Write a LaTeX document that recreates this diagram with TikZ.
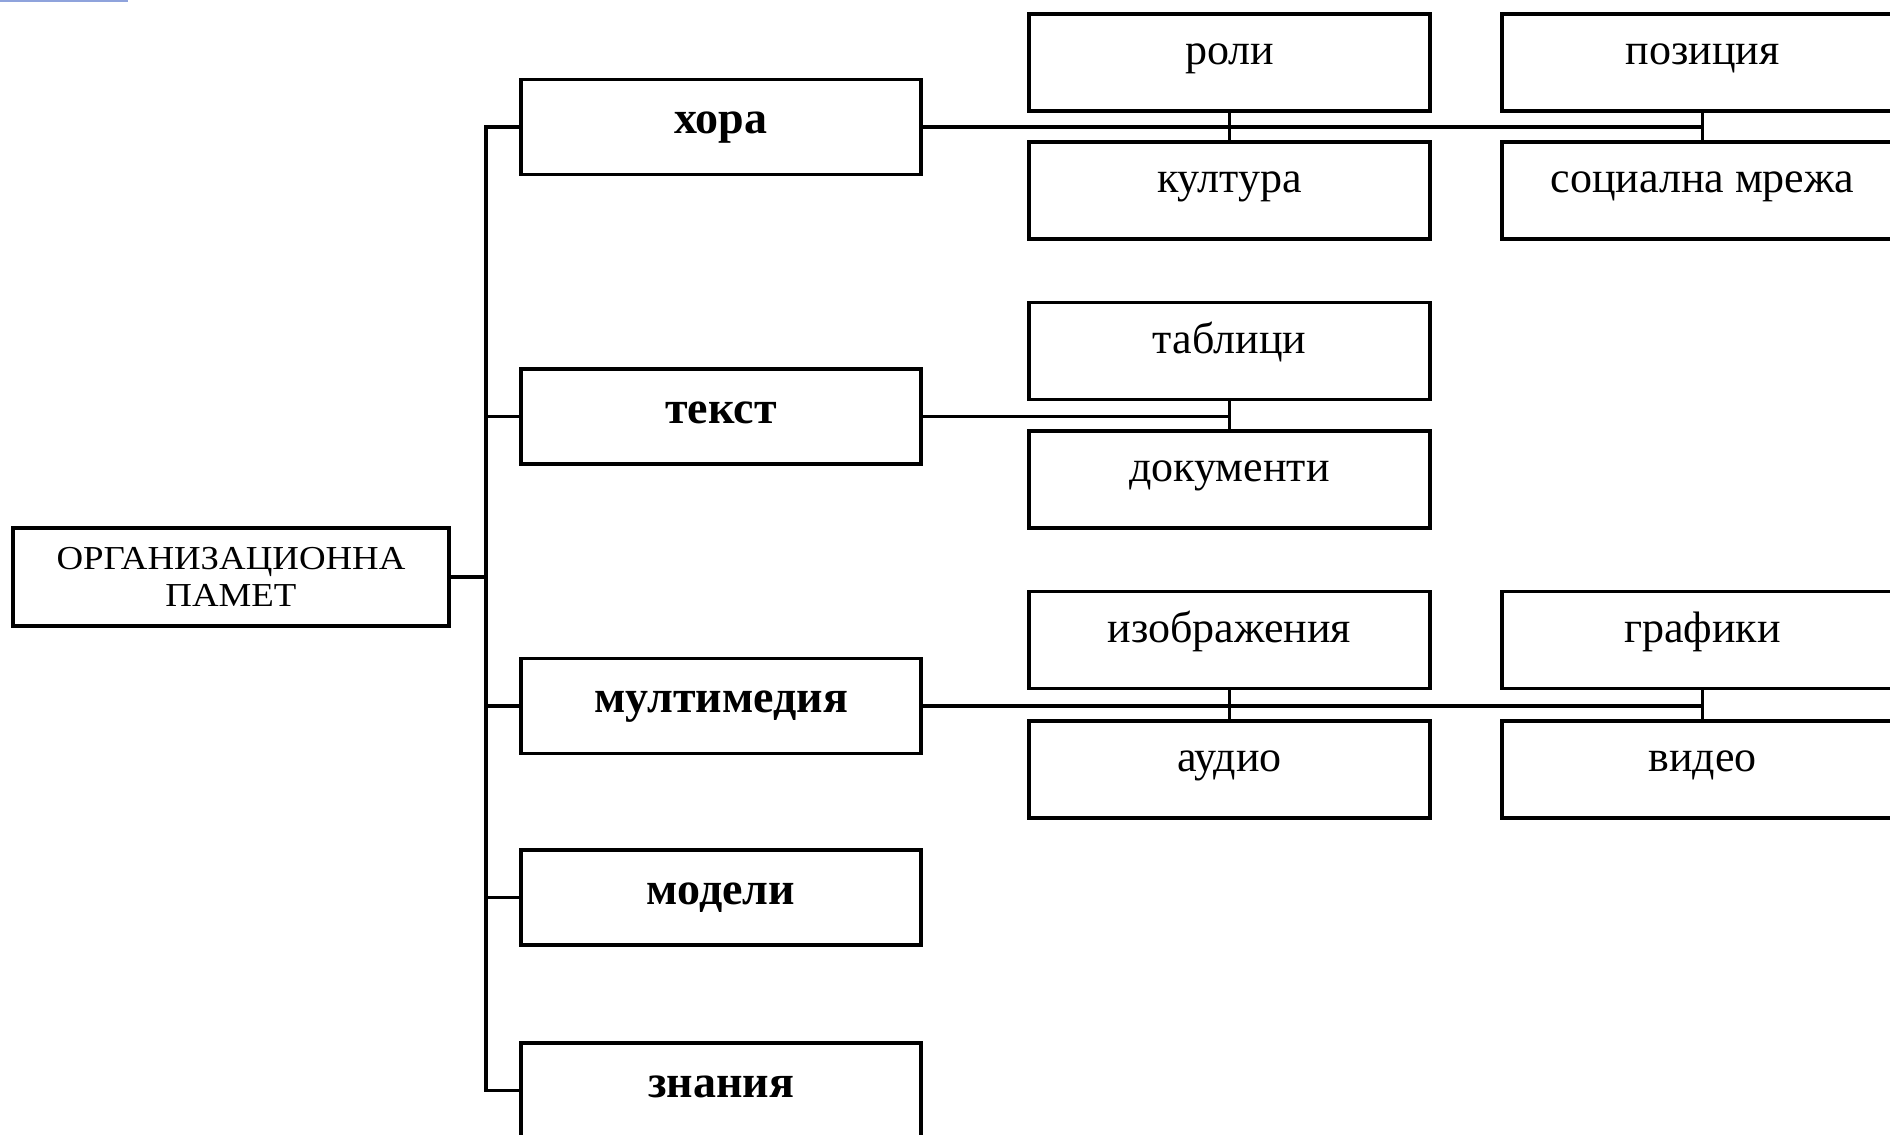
\documentclass[tikz,border=0pt]{standalone}
\usepackage{fontspec}
\setmainfont{Liberation Serif}
\newfontfamily\rootfont[FakeStretch=1.1]{Liberation Serif}
\definecolor{rulecol}{HTML}{8FA3DC}
\tikzset{
  box/.style={draw, line width=3.2pt, inner xsep=0pt, inner ysep=0pt, anchor=center},
  rootbox/.style={box, minimum width=436pt, minimum height=98pt, align=center,
    font=\rootfont\fontsize{33.5}{37}\selectfont},
  topic/.style={box, minimum width=400pt, minimum height=95pt,
    text height=13pt, text depth=0pt, font=\fontsize{46}{50}\selectfont\bfseries},
  item/.style={box, minimum width=401pt, minimum height=97pt,
    text height=4pt, text depth=0pt, font=\fontsize{44}{48}\selectfont},
  link/.style={line width=3.1pt},
}
\begin{document}
\begin{tikzpicture}[x=1pt,y=-1pt]
\useasboundingbox (0,0) rectangle (1890,1135);
\clip (0,0) rectangle (1890,1135);
\fill[rulecol] (0,0) rectangle (128,1.6);

% root
\node[rootbox] (root) at (231,577) {ОРГАНИЗАЦИОННА\\ПАМЕТ};
\coordinate (trunk) at (486,577);

% first level
\node[topic] (hora)   at (721,127)    {хора};
\node[topic] (tekst)  at (721,416.5)  {текст};
\node[topic] (multi)  at (721,706)    {мултимедия};
\node[topic] (modeli) at (721,897.5)  {модели};
\node[topic] (znania) at (721,1090.5) {знания};

% second level
\node[item] (roli)      at (1229.5,62.5)  {роли};
\node[item] (kultura)   at (1229.5,190.5) {култура};
\node[item] (pozicia)   at (1702.5,62.5)  {позиция};
\node[item] (social)    at (1702.5,190.5) {социална мрежа};
\node[item] (tablici)   at (1229.5,351)   {таблици};
\node[item] (dokumenti) at (1229.5,479.5) {документи};
\node[item] (izobr)     at (1229.5,640)   {изображения};
\node[item] (audio)     at (1229.5,769.5) {аудио};
\node[item] (grafiki)   at (1702.5,640)   {графики};
\node[item] (video)     at (1702.5,769.5) {видео};

% trunk
\draw[link] (root.east) -- (trunk);
\draw[link] (hora.west) -- (hora.west -| trunk) -- (znania.west -| trunk) -- (znania.west);
\foreach \n in {tekst,multi,modeli}
  \draw[link] (\n.west) -- (\n.west -| trunk);

% branches
\draw[link] (hora.east) -- (hora.east -| pozicia.south);
\draw[link] (roli.south) -- (kultura.north);
\draw[link] (pozicia.south) -- (social.north);
\draw[link] (tekst.east) -- (tekst.east -| tablici.south);
\draw[link] (tablici.south) -- (dokumenti.north);
\draw[link] (multi.east) -- (multi.east -| grafiki.south);
\draw[link] (izobr.south) -- (audio.north);
\draw[link] (grafiki.south) -- (video.north);
\end{tikzpicture}
\end{document}
